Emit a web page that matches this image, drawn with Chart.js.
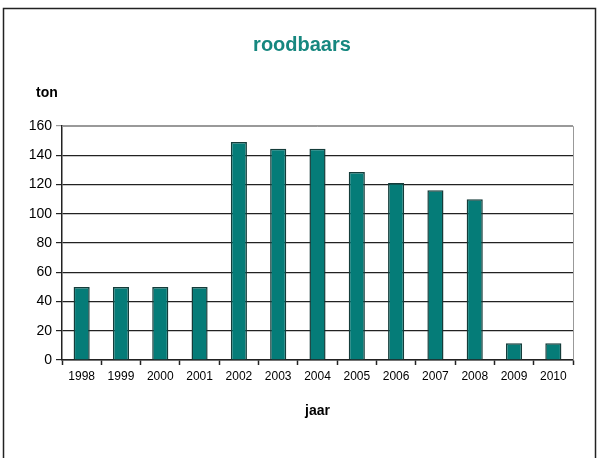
<!DOCTYPE html>
<html>
<head>
<meta charset="utf-8">
<script src="https://cdn.jsdelivr.net/npm/chart.js@4"></script>
<style>
  html, body { margin: 0; padding: 0; background: #fff; }
  #wrap { width: 599px; height: 458px; }
</style>
</head>
<body>
<div id="wrap"><canvas id="c" width="599" height="458"></canvas></div>
<script>
// jaren en vangst in ton
const years = ['1998', '1999', '2000', '2001', '2002', '2003', '2004', '2005', '2006', '2007', '2008', '2009', '2010']
const tons = [50, 50, 50, 50, 149, 144.5, 144.5, 128.5, 121, 116, 110, 11.5, 11.5]
const yTicks = [0, 20, 40, 60, 80, 100, 120, 140, 160]

const teal = '#057c78'

// witte achtergrond, kader om het plaatje, rand rechts van het plotvlak en "ton"
const extras = {
    id: 'extras',
    beforeDraw: (chart) => {
        const ctx = chart.ctx
        ctx.save()
        ctx.fillStyle = '#fff'
        ctx.fillRect(0, 0, chart.width, chart.height)
        ctx.strokeStyle = '#222'
        ctx.lineWidth = 1.5
        ctx.strokeRect(3.5, 8.5, 592, 470)
        ctx.restore()
    },
    afterDraw: (chart) => {
        const ctx = chart.ctx
        const a = chart.chartArea
        ctx.save()
        ctx.strokeStyle = '#999'
        ctx.lineWidth = 1
        ctx.beginPath()
        ctx.moveTo(a.left, a.top + 0.5)
        ctx.lineTo(a.right + 0.5, a.top + 0.5)
        ctx.lineTo(a.right + 0.5, a.bottom)
        ctx.stroke()
        ctx.fillStyle = '#000'
        ctx.font = 'bold 14px "Liberation Sans", Arial, sans-serif'
        ctx.textBaseline = 'middle'
        ctx.fillText('ton', a.left - 26, a.top - 33)
        ctx.restore()
    }
}

const font = '"Liberation Sans", Arial, sans-serif'

const ctx = document.getElementById('c').getContext('2d')
new Chart(ctx, {
    type: 'bar',
    data: {
        labels: years,
        datasets: [{
            data: tons,
            backgroundColor: teal,
            borderColor: '#143c3a',
            borderWidth: 1.5,
            borderSkipped: 'bottom',
            barPercentage: 0.41,
            categoryPercentage: 1
        }]
    },
    options: {
        responsive: false,
        animation: false,
        layout: { padding: { left: 5, right: 0, top: 0, bottom: 0 } },
        plugins: {
            legend: { display: false },
            tooltip: { enabled: false },
            title: {
                display: true,
                text: 'roodbaars',
                color: '#16877f',
                font: { family: font, size: 20, weight: 'bold', lineHeight: 1.2 },
                padding: { top: 33, bottom: 69 }
            }
        },
        scales: {
            x: {
                afterFit: (s) => { s.height = 98 },
                grid: { display: true, offset: true, drawOnChartArea: false, tickLength: 5, color: '#222', tickWidth: 1.5 },
                border: { color: '#222', width: 1.5 },
                ticks: {
                    color: '#000', padding: 4, maxRotation: 0, autoSkip: false,
                    font: { family: font, size: 12 }
                },
                title: {
                    display: true,
                    text: 'jaar',
                    color: '#000',
                    font: { family: font, size: 14, weight: 'bold', lineHeight: 1.2 },
                    padding: { top: 0, bottom: 38 }
                }
            },
            y: {
                min: 0,
                max: 160,
                afterFit: (s) => { s.width = 57 },
                afterBuildTicks: (s) => { s.ticks = yTicks.map(v => ({ value: v })) },
                grid: { color: (c) => c.tick && c.tick.value === 160 ? '#999' : '#222', lineWidth: 1.2, tickLength: 6 },
                border: { color: '#222', width: 1.5 },
                ticks: {
                    color: '#000', padding: 4,
                    font: { family: font, size: 14 }
                }
            },
            // lege ruimte rechts van het plotvlak
            spacer: {
                position: 'right',
                afterFit: (s) => { s.width = 26 },
                grid: { display: false },
                border: { display: false },
                ticks: { display: false }
            }
        }
    },
    plugins: [extras]
})
</script>
</body>
</html>
